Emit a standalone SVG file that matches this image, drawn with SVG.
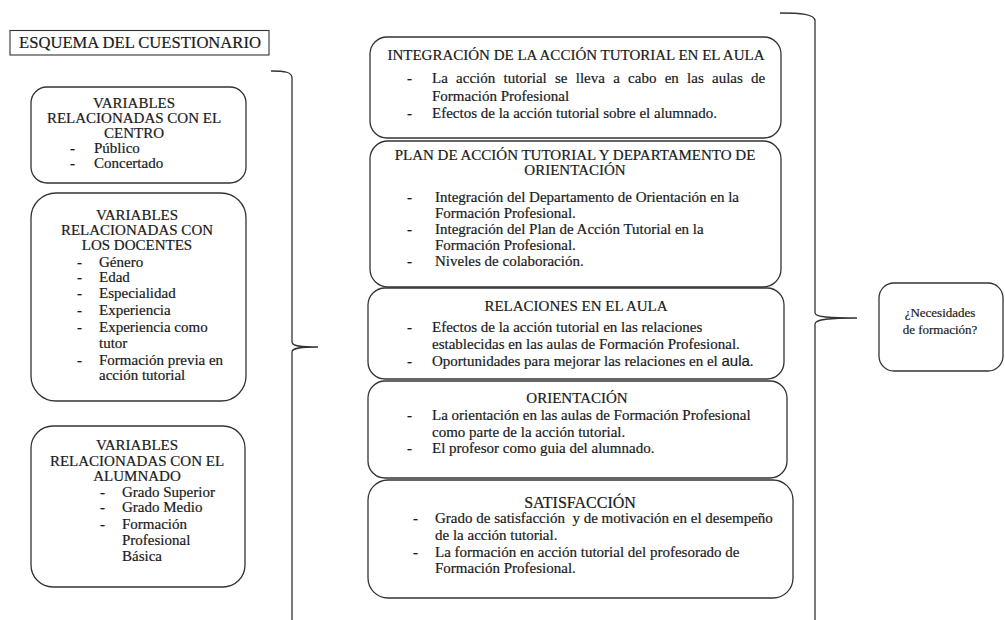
<svg xmlns="http://www.w3.org/2000/svg" width="1005" height="620" viewBox="0 0 1005 620">
<style>
.bg{fill:#fff}
.box{fill:#fff;stroke:#333;stroke-width:1.3}
.br{fill:none;stroke:#333;stroke-width:1.3}
.t{font-family:"Liberation Serif","Times New Roman",serif;font-size:15px;fill:#1a1a1a;stroke:#1a1a1a;stroke-width:0.2}
.c{text-anchor:middle}
</style>
<rect class="bg" x="0" y="0" width="1005" height="620"/>
<g id="title">
<rect x="10" y="30.5" width="259" height="24.5" fill="#fff" stroke="#333" stroke-width="1.1"/>
<text class="t c" x="140" y="48" style="font-size:16.6px">ESQUEMA DEL CUESTIONARIO</text>
</g>
<g id="connectors">
<path class="br" d="M271 71 C285 71 292 72 292 78 L292 342 C292 346 300 347 318 347 C300 347 292 348 292 352 L292 620"/>
<path class="br" d="M780 13 C800 13 815 14 815 21 L815 313 C815 317 830 318 857 318 C830 318 815 319 815 324 L815 620"/>
</g>
<g id="centro">
<rect class="box" x="31" y="87" width="215" height="96" rx="16"/>
<text class="t c" x="134" y="108">VARIABLES</text>
<text class="t c" x="134" y="123">RELACIONADAS CON EL</text>
<text class="t c" x="134" y="138">CENTRO</text>
<text class="t" x="70" y="153">-</text><text class="t" x="94" y="153">Público</text>
<text class="t" x="70" y="168">-</text><text class="t" x="94" y="168">Concertado</text>
</g>
<g id="docentes">
<rect class="box" x="31" y="193" width="215" height="208" rx="25"/>
<text class="t c" x="137" y="220">VARIABLES</text>
<text class="t c" x="137" y="235">RELACIONADAS CON</text>
<text class="t c" x="137" y="250">LOS DOCENTES</text>
<text class="t" x="77" y="267">-</text><text class="t" x="99" y="267">Género</text>
<text class="t" x="77" y="282">-</text><text class="t" x="99" y="282">Edad</text>
<text class="t" x="77" y="298">-</text><text class="t" x="99" y="298">Especialidad</text>
<text class="t" x="77" y="315">-</text><text class="t" x="99" y="315">Experiencia</text>
<text class="t" x="77" y="332">-</text><text class="t" x="99" y="332">Experiencia como</text>
<text class="t" x="99" y="348">tutor</text>
<text class="t" x="77" y="365">-</text><text class="t" x="99" y="365">Formación previa en</text>
<text class="t" x="99" y="380">acción tutorial</text>
</g>
<g id="alumnado">
<rect class="box" x="31" y="426" width="214" height="161" rx="22"/>
<text class="t c" x="137" y="450">VARIABLES</text>
<text class="t c" x="137" y="466">RELACIONADAS CON EL</text>
<text class="t c" x="137" y="481">ALUMNADO</text>
<text class="t" x="100" y="497">-</text><text class="t" x="122" y="497">Grado Superior</text>
<text class="t" x="100" y="512">-</text><text class="t" x="122" y="512">Grado Medio</text>
<text class="t" x="100" y="529">-</text><text class="t" x="122" y="529">Formación</text>
<text class="t" x="122" y="545">Profesional</text>
<text class="t" x="122" y="561">Básica</text>
</g>
<g id="integracion">
<rect class="box" x="370" y="37" width="411" height="101" rx="17"/>
<text class="t c" x="576" y="60">INTEGRACIÓN DE LA ACCIÓN TUTORIAL EN EL AULA</text>
<text class="t" x="407" y="83">-</text><text class="t" x="432" y="83" style="word-spacing:4.5px">La acción tutorial se lleva a cabo en las aulas de</text>
<text class="t" x="432" y="101">Formación Profesional</text>
<text class="t" x="407" y="118">-</text><text class="t" x="432" y="118">Efectos de la acción tutorial sobre el alumnado.</text>
</g>
<g id="plan">
<rect class="box" x="370" y="141" width="411" height="146" rx="18"/>
<text class="t c" x="575" y="160">PLAN DE ACCIÓN TUTORIAL Y DEPARTAMENTO DE</text>
<text class="t c" x="575" y="175">ORIENTACIÓN</text>
<text class="t" x="407" y="202">-</text><text class="t" x="435" y="202">Integración del Departamento de Orientación en la</text>
<text class="t" x="435" y="218">Formación Profesional.</text>
<text class="t" x="407" y="234">-</text><text class="t" x="435" y="234">Integración del Plan de Acción Tutorial en la</text>
<text class="t" x="435" y="250">Formación Profesional.</text>
<text class="t" x="407" y="266">-</text><text class="t" x="435" y="266">Niveles de colaboración.</text>
</g>
<g id="relaciones">
<rect class="box" x="368" y="288" width="416" height="91" rx="17"/>
<text class="t c" x="576" y="311">RELACIONES EN EL AULA</text>
<text class="t" x="407" y="332">-</text><text class="t" x="432" y="332">Efectos de la acción tutorial en las relaciones</text>
<text class="t" x="432" y="349">establecidas en las aulas de Formación Profesional.</text>
<text class="t" x="407" y="366">-</text><text class="t" x="432" y="366">Oportunidades para mejorar las relaciones en el <tspan style="font-family:'Liberation Sans',Arial,sans-serif">aula</tspan>.</text>
</g>
<g id="orientacion">
<rect class="box" x="368" y="381" width="419" height="97" rx="17"/>
<text class="t c" x="577" y="403">ORIENTACIÓN</text>
<text class="t" x="407" y="420">-</text><text class="t" x="432" y="420">La orientación en las aulas de Formación Profesional</text>
<text class="t" x="432" y="437">como parte de la acción tutorial.</text>
<text class="t" x="407" y="453">-</text><text class="t" x="432" y="453">El profesor como guia del alumnado.</text>
</g>
<g id="satisfaccion">
<rect class="box" x="368" y="480" width="425" height="118" rx="20"/>
<text class="t c" x="580" y="508" style="font-size:16px">SATISFACCIÓN</text>
<text class="t" x="413" y="523">-</text><text class="t" x="435" y="523" style="white-space:pre">Grado de satisfacción  y de motivación en el desempeño</text>
<text class="t" x="435" y="540">de la acción tutorial.</text>
<text class="t" x="413" y="557">-</text><text class="t" x="435" y="557">La formación en acción tutorial del profesorado de</text>
<text class="t" x="435" y="573">Formación Profesional.</text>
</g>
<g id="necesidades">
<rect class="box" x="879" y="283" width="124" height="88" rx="15"/>
<text class="t c" x="940" y="317" style="font-size:13px">¿Necesidades</text>
<text class="t c" x="940" y="334" style="font-size:13px">de formación?</text>
</g>
</svg>
